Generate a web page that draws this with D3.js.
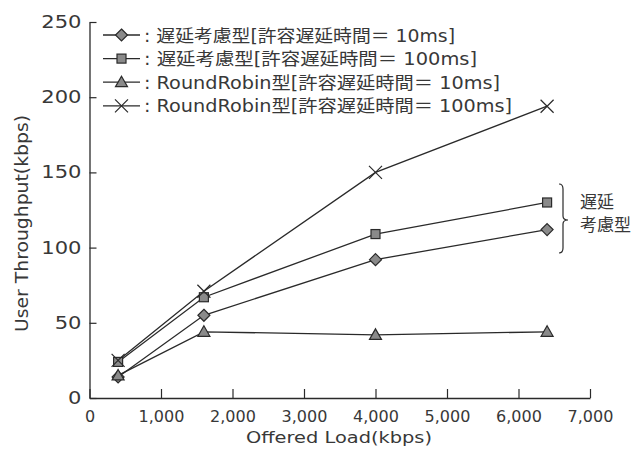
<!DOCTYPE html>
<html><head><meta charset="utf-8">
<script src="https://cdn.jsdelivr.net/npm/d3@7"></script>
<style>
body{margin:0;background:#fff;}
text{font-family:"DejaVu Sans","Noto Sans CJK JP",sans-serif;fill:#383838;}
</style></head>
<body><svg id="c" width="637" height="449"></svg>
<script>
const offeredLoad = [400, 1600, 4000, 6400];
const delay10 = [14, 55, 92, 112];
const delay100 = [24, 67, 109, 130];
const rr10 = [15, 44, 42, 44];
const rr100 = [25, 71, 150, 194];
const seriesNames = [
  ": 遅延考慮型[許容遅延時間＝ 10ms]",
  ": 遅延考慮型[許容遅延時間＝ 100ms]",
  ": RoundRobin型[許容遅延時間＝ 10ms]",
  ": RoundRobin型[許容遅延時間＝ 100ms]"
];
const seriesMarkers = ["diamond", "square", "triangle", "cross"];
const xTicks = [0,1000,2000,3000,4000,5000,6000,7000];
const yTicks = [0,50,100,150,200,250];
const xTitle = "Offered Load(kbps)";
const yTitle = "User Throughput(kbps)";
const bracketLabel = ["遅延", "考慮型"];

const series = [delay10, delay100, rr10, rr100].map((v,i)=>({name:seriesNames[i], marker:seriesMarkers[i], values:v}));

const svg = d3.select("#c");
const x = d3.scaleLinear().domain([0,7000]).range([89.5,590]);
const y = d3.scaleLinear().domain([0,250]).range([398,22]);
const ink = "#2a2a2a";

// axes
const xa = svg.append("g").attr("transform","translate(0,398)")
  .call(d3.axisBottom(x).tickValues(xTicks).tickSizeInner(-9).tickSizeOuter(0).tickPadding(13).tickFormat(d3.format(",")));
const ya = svg.append("g").attr("transform","translate(89.5,0)")
  .call(d3.axisLeft(y).tickValues(yTicks).tickSizeInner(-7).tickSizeOuter(0).tickPadding(8));
[xa,ya].forEach(a=>{
  a.select(".domain").attr("stroke",ink).attr("stroke-width",1.3);
  a.selectAll(".tick line").attr("stroke",ink).attr("stroke-width",1.2);
  a.selectAll(".tick text").attr("fill","#383838").style("font-family","'DejaVu Sans',sans-serif");
});
xa.selectAll(".tick text").attr("font-size",16);
ya.selectAll(".tick text").attr("font-size",17)
  .attr("textLength",d=>String(d).length*13.4).attr("lengthAdjust","spacingAndGlyphs");

svg.append("text").attr("x",339).attr("y",443).attr("text-anchor","middle").attr("font-size",16.5)
  .attr("textLength",186).attr("lengthAdjust","spacingAndGlyphs").text(xTitle);
svg.append("text").attr("transform","translate(28,223.5) rotate(-90)").attr("text-anchor","middle").attr("font-size",17)
  .attr("textLength",217).attr("lengthAdjust","spacingAndGlyphs").text(yTitle);

// markers
function drawMarker(g, type, cx, cy){
  if(type==="diamond"){
    g.append("path").attr("d",`M${cx},${cy-6}L${cx+6},${cy}L${cx},${cy+6}L${cx-6},${cy}Z`).attr("fill","#8a8a8a").attr("stroke",ink).attr("stroke-width",1.2);
  } else if(type==="square"){
    g.append("rect").attr("x",cx-4.5).attr("y",cy-4.5).attr("width",9).attr("height",9).attr("fill","#8a8a8a").attr("stroke",ink).attr("stroke-width",1.2);
  } else if(type==="triangle"){
    g.append("path").attr("d",`M${cx},${cy-6}L${cx+6},${cy+4.5}L${cx-6},${cy+4.5}Z`).attr("fill","#8a8a8a").attr("stroke",ink).attr("stroke-width",1.2);
  } else {
    g.append("path").attr("d",`M${cx-6.5},${cy-6.5}L${cx+6.5},${cy+6.5}M${cx-6.5},${cy+6.5}L${cx+6.5},${cy-6.5}`).attr("fill","none").attr("stroke",ink).attr("stroke-width",1.2);
  }
}

const line = d3.line().x((d,i)=>x(offeredLoad[i])).y(d=>y(d));
series.forEach(s=>{
  svg.append("path").datum(s.values).attr("d",line).attr("fill","none").attr("stroke",ink).attr("stroke-width",1.3);
});
series.forEach(s=>{
  const g = svg.append("g");
  s.values.forEach((v,i)=>drawMarker(g, s.marker, x(offeredLoad[i]), y(v)));
});

// legend
const legendWidths = [311, 333, 356, 368];
const lg = svg.append("g");
series.forEach((s,i)=>{
  const cy = 35 + i*23.6;
  lg.append("line").attr("x1",103).attr("x2",140).attr("y1",cy).attr("y2",cy).attr("stroke",ink).attr("stroke-width",1.3);
  drawMarker(lg, s.marker, 121.5, cy);
  lg.append("text").attr("x",144).attr("y",cy+6.5).attr("font-size",17)
    .attr("textLength",legendWidths[i]).attr("lengthAdjust","spacingAndGlyphs").text(s.name);
});

// bracket
const bx = 563, by0 = 184, by1 = 253, bm = 220;
svg.append("path").attr("d",`M${bx-4},${by0} Q${bx},${by0} ${bx},${by0+5} L${bx},${bm-4} Q${bx},${bm} ${bx+5},${bm} Q${bx},${bm} ${bx},${bm+4} L${bx},${by1-5} Q${bx},${by1} ${bx-4},${by1}`)
  .attr("fill","none").attr("stroke",ink).attr("stroke-width",1.2);
bracketLabel.forEach((t,i)=>{
  svg.append("text").attr("x",580).attr("y",208+i*23).attr("font-size",17).text(t);
});
</script></body></html>
